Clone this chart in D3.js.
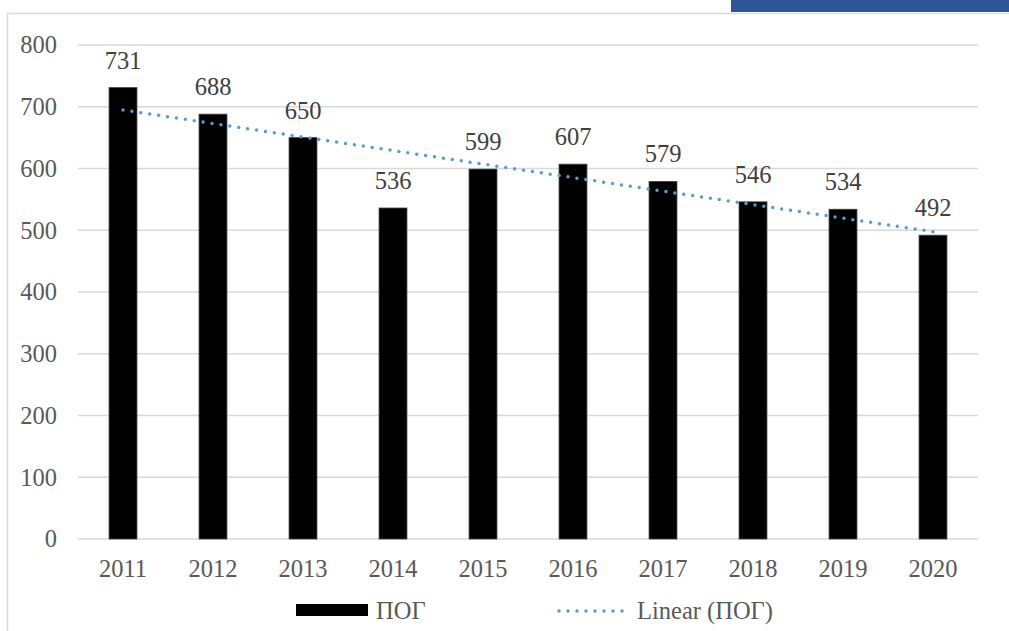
<!DOCTYPE html>
<html><head><meta charset="utf-8">
<script src="https://cdn.jsdelivr.net/npm/d3@7/dist/d3.min.js"></script>
<style>
html,body{margin:0;padding:0;background:#fff;overflow:hidden}
svg text{font-family:"Liberation Serif","Times New Roman",serif !important;font-size:24.5px}
</style>
</head><body>
<svg id="c" width="1009" height="631"></svg>
<script>
const categories = ["2011","2012","2013","2014","2015","2016","2017","2018","2019","2020"];
const values = [731,688,650,536,599,607,579,546,534,492];
const yTicks = [0,100,200,300,400,500,600,700,800];
const seriesName = "ПОГ";
const trendName = "Linear (ПОГ)";

(function(){
const svg = d3.select("#c");

// header bar and frame
svg.append("rect").attr("x",731).attr("y",0).attr("width",278).attr("height",12).attr("fill","#2f5597");
svg.append("rect").attr("x",7.5).attr("y",13.5).attr("width",1100).attr("height",700)
  .attr("fill","none").attr("stroke","#d9d9d9").attr("stroke-width",1.5);

const pL = 78, pR = 978, pT = 45, pB = 539;
const x = d3.scaleBand().domain(categories).range([pL,pR]).paddingInner(0.69).paddingOuter(0.345);
const y = d3.scaleLinear().domain([0,800]).range([pB,pT]);

// gridlines
svg.append("g").selectAll("line").data(yTicks).join("line")
  .attr("x1",pL).attr("x2",pR).attr("y1",d=>y(d)).attr("y2",d=>y(d))
  .attr("stroke","#d9d9d9").attr("stroke-width",1.5);

// y axis
const ya = svg.append("g").attr("transform",`translate(${pL},0)`)
  .call(d3.axisLeft(y).tickValues(yTicks).tickSize(0).tickPadding(21));
ya.select(".domain").remove();
ya.attr("font-family",null).attr("font-size",null);
ya.selectAll("text").attr("fill","#595959");

// bars
svg.append("g").selectAll("rect").data(values).join("rect")
  .attr("x",(d,i)=>x(categories[i])).attr("width",x.bandwidth())
  .attr("y",d=>y(d)).attr("height",d=>y(0)-y(d))
  .attr("fill","#000").attr("stroke","#404040").attr("stroke-width",0.8);

// x axis
const xa = svg.append("g").attr("transform",`translate(0,${pB})`)
  .call(d3.axisBottom(x).tickSize(0).tickPadding(21));
xa.select(".domain").remove();
xa.attr("font-family",null).attr("font-size",null);
xa.selectAll("text").attr("fill","#595959");

// trendline (least squares)
const n = values.length;
const mx = (n-1)/2, my = d3.mean(values);
let sxy=0,sxx=0;
values.forEach((v,i)=>{sxy+=(i-mx)*(v-my);sxx+=(i-mx)*(i-mx);});
const slope = sxy/sxx, icpt = my - slope*mx;
const cx = i => x(categories[i]) + x.bandwidth()/2;
svg.append("line")
  .attr("x1",cx(0)).attr("y1",y(icpt))
  .attr("x2",cx(n-1)).attr("y2",y(icpt+slope*(n-1)))
  .attr("stroke","#5b9bd5").attr("stroke-width",3.5)
  .attr("stroke-linecap","round").attr("stroke-dasharray","0 9");

// data labels
svg.append("g").selectAll("text").data(values).join("text")
  .attr("x",(d,i)=>cx(i)).attr("y",d=>y(d)-19)
  .attr("text-anchor","middle")
  .attr("fill","#404040").text(d=>d);

// legend
const lg = svg.append("g");
lg.append("rect").attr("x",296).attr("y",604).attr("width",72).attr("height",12).attr("fill","#000");
lg.append("text").attr("x",376).attr("y",619)
  .attr("fill","#595959").text(seriesName);
lg.append("line").attr("x1",559).attr("x2",623).attr("y1",611).attr("y2",611)
  .attr("stroke","#5b9bd5").attr("stroke-width",3.5)
  .attr("stroke-linecap","round").attr("stroke-dasharray","0 9");
lg.append("text").attr("x",637).attr("y",619)
  .attr("fill","#595959").text(trendName);
})();
</script>
</body></html>
